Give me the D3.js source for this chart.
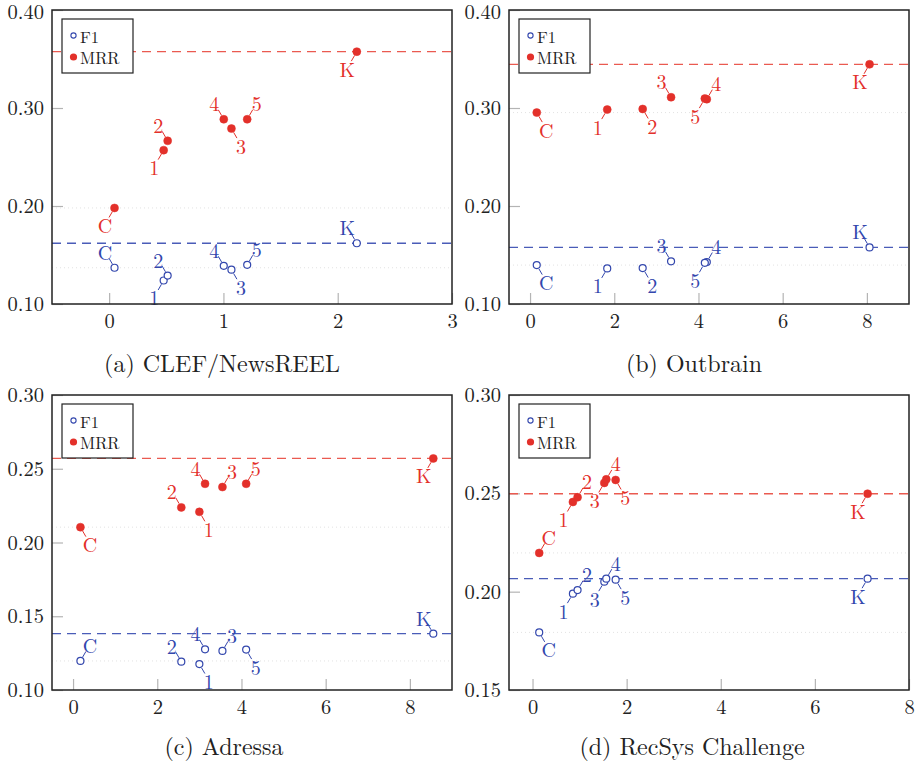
<!DOCTYPE html>
<html>
<head>
<meta charset="utf-8">
<script src="https://cdn.jsdelivr.net/npm/d3@7"></script>
<style>
  html, body { margin: 0; padding: 0; background: #fff; }
</style>
</head>
<body>
<svg id="chart" width="920" height="764"></svg>
<script>
// ---------- data ----------
const pointLabels = ["C", "1", "2", "3", "4", "5", "K"];

const clefX   = [0.047, 0.477, 0.512, 1.070, 1.003, 1.208, 2.167];
const clefMRR = [0.198, 0.257, 0.2665, 0.279, 0.2885, 0.2885, 0.3575];
const clefF1  = [0.137, 0.124, 0.129, 0.135, 0.139, 0.140, 0.162];
const clefMRRDir = ["SW", "SW", "NW", "SE", "NW", "NE", "SW"];
const clefF1Dir  = ["NW", "SW", "NW", "SE", "NW", "NE", "NW"];

const outX   = [0.159, 1.833, 2.675, 3.349, 4.198, 4.151, 8.063];
const outMRR = [0.2953, 0.2984, 0.299, 0.311, 0.309, 0.3096, 0.3446];
const outF1  = [0.1397, 0.1363, 0.1367, 0.1435, 0.1428, 0.142, 0.1577];
const outMRRDir = ["SE", "SW", "SE", "NW", "NE", "SW", "SW"];
const outF1Dir  = ["SE", "SW", "SE", "NW", "NE", "SW", "NW"];

const adrX   = [0.175, 3.0, 2.571, 3.548, 3.135, 4.111, 8.556];
const adrMRR = [0.2104, 0.2208, 0.2238, 0.2376, 0.2398, 0.2398, 0.257];
const adrF1  = [0.1197, 0.1176, 0.1192, 0.1265, 0.1276, 0.1274, 0.1382];
const adrMRRDir = ["SE", "SE", "NW", "NE", "NW", "NE", "SW"];
const adrF1Dir  = ["NE", "SE", "NW", "NE", "NW", "SE", "NW"];

const recX   = [0.142, 0.858, 0.957, 1.525, 1.567, 1.766, 7.12];
const recMRR = [0.2197, 0.2456, 0.248, 0.2553, 0.2571, 0.2568, 0.2498];
const recF1  = [0.1793, 0.199, 0.2008, 0.2051, 0.2066, 0.2061, 0.2066];
const recMRRDir = ["NE", "SW", "NE", "SW", "NE", "SE", "SW"];
const recF1Dir  = ["SE", "SW", "NE", "SW", "NE", "SE", "SW"];

const captions = ["(a) CLEF/NewsREEL", "(b) Outbrain", "(c) Adressa", "(d) RecSys Challenge"];
const legendLabels = ["F1", "MRR"];
const xTicksA = [0, 1, 2, 3];
const xTicksB = [0, 2, 4, 6, 8];
const yTicksTop = [0.10, 0.20, 0.30, 0.40];
const yTicksBot = [0.10, 0.15, 0.20, 0.25, 0.30];
const yTicksD   = [0.15, 0.20, 0.25, 0.30];

// ---------- styling ----------
const FONT = '"Latin Modern Roman", "CMU Serif", "Liberation Serif", serif';
const RED = "#e3302a";
const RED_DASH = "#ea5a50";
const BLUE = "#3347ad";
const BLUE_DASH = "#4a5cb8";
const INK = "#222";

const panels = [
  { left: 52,  top: 10,  w: 400, h: 294, xd: [-0.5, 3], yd: [0.10, 0.40], xt: xTicksA, yt: yTicksTop,
    xs: clefX, mrr: clefMRR, f1: clefF1, mDir: clefMRRDir, fDir: clefF1Dir, cap: captions[0], capX: 222, capY: 362 },
  { left: 509, top: 10,  w: 400, h: 294, xd: [-0.5, 9], yd: [0.10, 0.40], xt: xTicksB, yt: yTicksTop,
    xs: outX, mrr: outMRR, f1: outF1, mDir: outMRRDir, fDir: outF1Dir, cap: captions[1], capX: 694, capY: 362 },
  { left: 52,  top: 395, w: 400, h: 295, xd: [-0.5, 9], yd: [0.10, 0.30], xt: xTicksB, yt: yTicksBot,
    xs: adrX, mrr: adrMRR, f1: adrF1, mDir: adrMRRDir, fDir: adrF1Dir, cap: captions[2], capX: 224, capY: 745 },
  { left: 509, top: 395, w: 400, h: 295, xd: [-0.5, 8], yd: [0.15, 0.30], xt: xTicksB, yt: yTicksD,
    xs: recX, mrr: recMRR, f1: recF1, mDir: recMRRDir, fDir: recF1Dir, cap: captions[3], capX: 692, capY: 745 }
];

const svg = d3.select("#chart");
const dirVec = { NE: [1, -1], NW: [-1, -1], SE: [1, 1], SW: [-1, 1] };

panels.forEach(p => {
  const g = svg.append("g").attr("transform", `translate(${p.left},${p.top})`);
  const x = d3.scaleLinear().domain(p.xd).range([0, p.w]);
  const y = d3.scaleLinear().domain(p.yd).range([p.h, 0]);

  const yAxis = d3.axisLeft(y).tickValues(p.yt).tickFormat(d3.format(".2f")).tickSize(-11).tickPadding(8);
  const ya = g.append("g").call(yAxis);
  ya.select(".domain").remove();
  ya.selectAll("line").attr("stroke", "#b4b4b4").attr("stroke-width", 1.2);
  ya.selectAll("text").attr("x", -8).attr("text-anchor", "end").attr("fill", INK)
    .attr("dy", (d, i, n) => (p.top < 50 && i === n.length - 1) ? "0.42em" : "0.32em")
    .style("font-family", FONT).style("font-size", "20.5px");

  const xAxis = d3.axisBottom(x).tickValues(p.xt).tickFormat(d3.format("d")).tickSize(-11).tickPadding(8);
  const xa = g.append("g").attr("transform", `translate(0,${p.h})`).call(xAxis);
  xa.select(".domain").remove();
  xa.selectAll("line").attr("stroke", "#b4b4b4").attr("stroke-width", 1.2);
  xa.selectAll("text").attr("y", 9).attr("dy", "0.71em").attr("fill", INK)
    .style("font-family", FONT).style("font-size", "20.5px");

  // faint dotted reference lines at baseline C values
  [p.mrr[0], p.f1[0]].forEach(v => {
    g.append("line").attr("x1", 0).attr("x2", p.w).attr("y1", y(v)).attr("y2", y(v))
      .attr("stroke", "#e2e2e2").attr("stroke-width", 1).attr("stroke-dasharray", "1,3");
  });

  // dashed lines at K
  g.append("line").attr("x1", 0).attr("x2", p.w).attr("y1", y(p.mrr[6])).attr("y2", y(p.mrr[6]))
    .attr("stroke", RED_DASH).attr("stroke-width", 1.3).attr("stroke-dasharray", "9,6");
  g.append("line").attr("x1", 0).attr("x2", p.w).attr("y1", y(p.f1[6])).attr("y2", y(p.f1[6]))
    .attr("stroke", BLUE_DASH).attr("stroke-width", 1.3).attr("stroke-dasharray", "9,6");

  const series = [
    { vals: p.f1, dirs: p.fDir, color: BLUE, filled: false },
    { vals: p.mrr, dirs: p.mDir, color: RED, filled: true }
  ];
  series.forEach(s => {
    const pts = s.vals.map((v, i) => ({ cx: x(p.xs[i]), cy: y(v), lab: pointLabels[i], dir: dirVec[s.dirs[i]] }));
    g.append("g").selectAll("line").data(pts).join("line")
      .attr("x1", d => d.cx + d.dir[0] * 2.2).attr("y1", d => d.cy + d.dir[1] * 3.8)
      .attr("x2", d => d.cx + d.dir[0] * 5.5).attr("y2", d => d.cy + d.dir[1] * 9.5)
      .attr("stroke", s.color).attr("stroke-width", 1);
    g.append("g").selectAll("text").data(pts).join("text")
      .attr("x", d => d.cx + d.dir[0] * 9.5).attr("y", d => d.cy + d.dir[1] * 16.5)
      .attr("text-anchor", "middle").attr("dominant-baseline", "central")
      .attr("fill", s.color).style("font-family", FONT).style("font-size", "20px")
      .text(d => d.lab);
    g.append("g").selectAll("circle").data(pts).join("circle")
      .attr("cx", d => d.cx).attr("cy", d => d.cy)
      .attr("r", s.filled ? 4 : 3.5)
      .attr("fill", s.filled ? s.color : "#fff")
      .attr("stroke", s.color).attr("stroke-width", s.filled ? 0.5 : 1.2);
  });

  g.append("rect").attr("x", 0).attr("y", 0).attr("width", p.w).attr("height", p.h)
    .attr("fill", "none").attr("stroke", INK).attr("stroke-width", 1.5);

  // legend
  const lg = g.append("g").attr("transform", "translate(10,9)");
  lg.append("rect").attr("width", 71).attr("height", 54).attr("fill", "#fff").attr("stroke", INK).attr("stroke-width", 1.2);
  lg.append("circle").attr("cx", 11.5).attr("cy", 16.5).attr("r", 2.6).attr("fill", "#fff").attr("stroke", BLUE).attr("stroke-width", 1.1);
  lg.append("circle").attr("cx", 11.5).attr("cy", 38).attr("r", 3.6).attr("fill", RED);
  lg.selectAll("text").data(legendLabels).join("text")
    .attr("x", 18).attr("y", (d, i) => i === 0 ? 16.5 : 38).attr("dominant-baseline", "central")
    .attr("fill", INK).style("font-family", FONT).style("font-size", "16.5px").text(d => d);

  // caption
  svg.append("text").attr("x", p.capX).attr("y", p.capY)
    .attr("text-anchor", "middle").attr("dominant-baseline", "central")
    .attr("fill", INK).style("font-family", FONT).style("font-size", "24px").text(p.cap);
});
</script>
</body>
</html>
